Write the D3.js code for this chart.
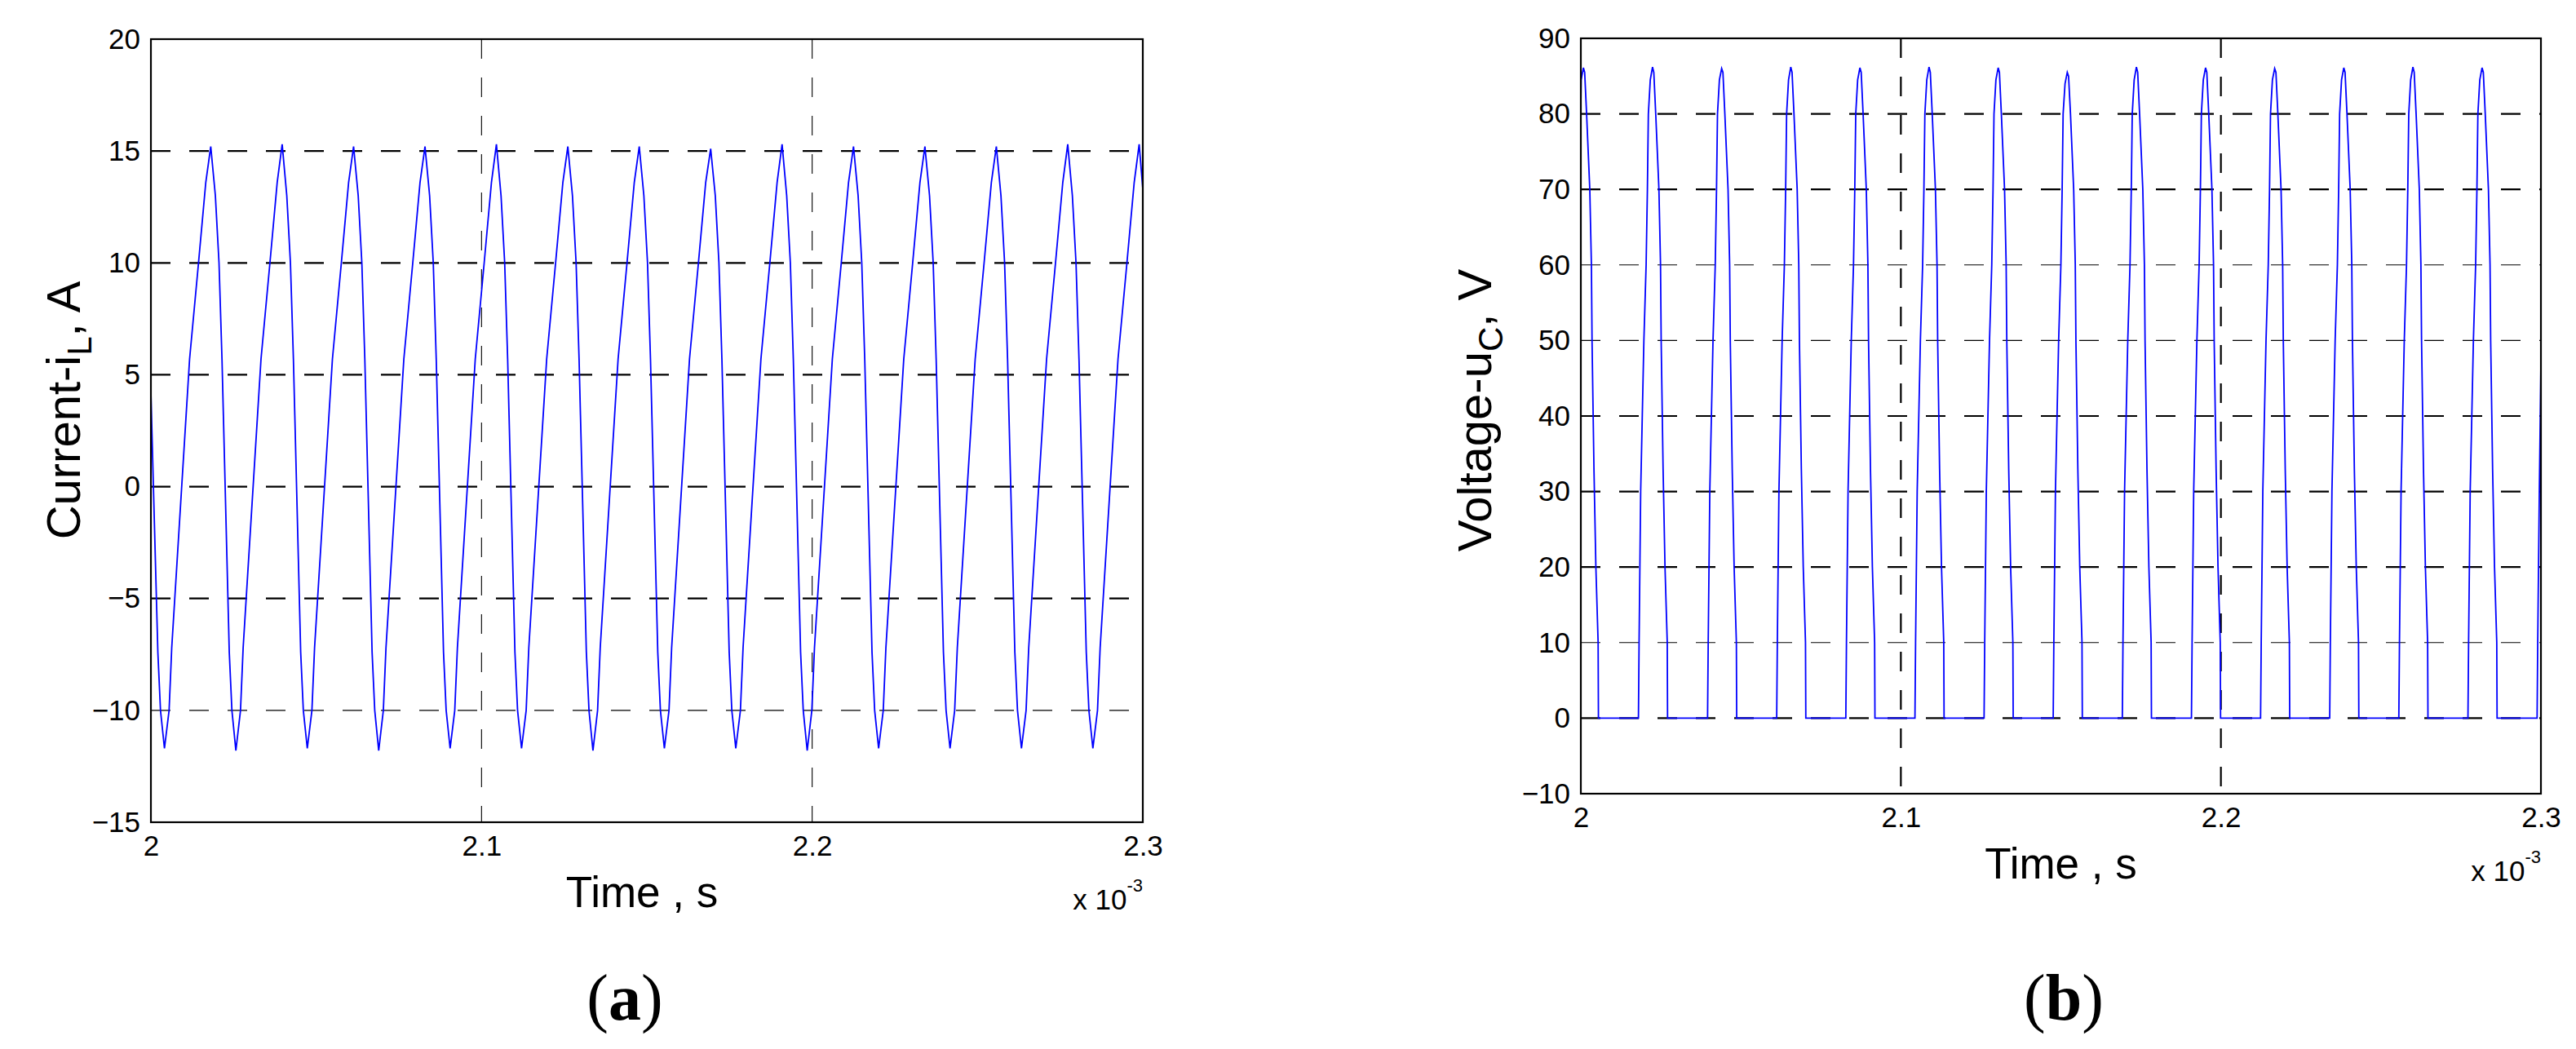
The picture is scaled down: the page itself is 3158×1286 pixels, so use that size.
<!DOCTYPE html>
<html><head><meta charset="utf-8">
<script src="https://cdn.jsdelivr.net/npm/d3@7"></script>
<style>html,body{margin:0;padding:0;background:#fff;}svg{display:block;}</style>
</head><body>
<script>
// ---------- data ----------
const xTicks = [2, 2.1, 2.2, 2.3];
const xTickLabels = ["2", "2.1", "2.2", "2.3"];
const yTicksA = [-15, -10, -5, 0, 5, 10, 15, 20];
const yTicksB = [-10, 0, 10, 20, 30, 40, 50, 60, 70, 80, 90];
const xLabel = "Time , s";
const xScaleNote = ["x 10", "-3"];
const yLabelA = ["Current-i", "L", ", A"];
const yLabelB = ["Voltage-u", "C", ", V"];
const panelLabels = ["a", "b"];

// inductor current i_L (A) vs time (x 10^-3 s)
const currentData = [
[2.0000,4.2],[2.0021,-7.4],[2.0029,-10.0],
[2.0041,-11.7],[2.0055,-10.0],[2.0063,-7.2],[2.0117,5.7],[2.0144,10.0],[2.0166,13.6],[2.0181,15.2],[2.0195,13.0],[2.0206,10.0],[2.0215,5.7],[2.0237,-7.4],[2.0245,-10.0],
[2.0257,-11.8],[2.0271,-10.0],[2.0279,-7.2],[2.0333,5.7],[2.0360,10.0],[2.0382,13.6],[2.0397,15.3],[2.0411,13.0],[2.0422,10.0],[2.0431,5.7],[2.0453,-7.4],[2.0461,-10.0],
[2.0473,-11.7],[2.0487,-10.0],[2.0495,-7.2],[2.0549,5.7],[2.0576,10.0],[2.0598,13.6],[2.0613,15.2],[2.0627,13.0],[2.0638,10.0],[2.0647,5.7],[2.0669,-7.4],[2.0677,-10.0],
[2.0689,-11.8],[2.0703,-10.0],[2.0711,-7.2],[2.0765,5.7],[2.0792,10.0],[2.0814,13.6],[2.0829,15.2],[2.0843,13.0],[2.0854,10.0],[2.0863,5.7],[2.0885,-7.4],[2.0893,-10.0],
[2.0905,-11.7],[2.0919,-10.0],[2.0927,-7.2],[2.0981,5.7],[2.1008,10.0],[2.1030,13.6],[2.1045,15.3],[2.1059,13.0],[2.1070,10.0],[2.1079,5.7],[2.1101,-7.4],[2.1109,-10.0],
[2.1121,-11.7],[2.1135,-10.0],[2.1143,-7.2],[2.1197,5.7],[2.1224,10.0],[2.1246,13.6],[2.1261,15.2],[2.1275,13.0],[2.1286,10.0],[2.1295,5.7],[2.1317,-7.4],[2.1325,-10.0],
[2.1337,-11.8],[2.1351,-10.0],[2.1359,-7.2],[2.1413,5.7],[2.1440,10.0],[2.1462,13.6],[2.1477,15.2],[2.1491,13.0],[2.1502,10.0],[2.1511,5.7],[2.1533,-7.4],[2.1541,-10.0],
[2.1553,-11.7],[2.1567,-10.0],[2.1575,-7.2],[2.1629,5.7],[2.1656,10.0],[2.1678,13.6],[2.1693,15.1],[2.1707,13.0],[2.1718,10.0],[2.1727,5.7],[2.1749,-7.4],[2.1757,-10.0],
[2.1769,-11.7],[2.1783,-10.0],[2.1791,-7.2],[2.1845,5.7],[2.1872,10.0],[2.1894,13.6],[2.1909,15.3],[2.1923,13.0],[2.1934,10.0],[2.1943,5.7],[2.1965,-7.4],[2.1973,-10.0],
[2.1985,-11.8],[2.1999,-10.0],[2.2007,-7.2],[2.2061,5.7],[2.2088,10.0],[2.2110,13.6],[2.2125,15.2],[2.2139,13.0],[2.2150,10.0],[2.2159,5.7],[2.2181,-7.4],[2.2189,-10.0],
[2.2201,-11.7],[2.2215,-10.0],[2.2223,-7.2],[2.2277,5.7],[2.2304,10.0],[2.2326,13.6],[2.2341,15.2],[2.2355,13.0],[2.2366,10.0],[2.2375,5.7],[2.2397,-7.4],[2.2405,-10.0],
[2.2417,-11.7],[2.2431,-10.0],[2.2439,-7.2],[2.2493,5.7],[2.2520,10.0],[2.2542,13.6],[2.2557,15.2],[2.2571,13.0],[2.2582,10.0],[2.2591,5.7],[2.2613,-7.4],[2.2621,-10.0],
[2.2633,-11.7],[2.2647,-10.0],[2.2655,-7.2],[2.2709,5.7],[2.2736,10.0],[2.2758,13.6],[2.2773,15.3],[2.2787,13.0],[2.2798,10.0],[2.2807,5.7],[2.2829,-7.4],[2.2837,-10.0],
[2.2849,-11.7],[2.2863,-10.0],[2.2871,-7.2],[2.2925,5.7],[2.2952,10.0],[2.2974,13.6],[2.2989,15.3],[2.3000,13.3]
];

// capacitor voltage u_C (V) vs time (x 10^-3 s)
const voltageData = [
[2.0000,81],[2.0001,84.5],[2.0008,86.1],[2.0012,85.5],[2.0018,80],[2.0028,70],[2.0033,60],[2.0035,50],[2.0041,33],[2.0047,20],[2.0054,10],[2.0055,0],
[2.0180,0],[2.0182,10],[2.0187,30],[2.0197,50],[2.0204,60],[2.0208,70],[2.0211,80],[2.0217,84.5],[2.0224,86.2],[2.0228,85.5],[2.0234,80],[2.0244,70],[2.0249,60],[2.0251,50],[2.0257,33],[2.0263,20],[2.0270,10],[2.0271,0],
[2.0396,0],[2.0398,10],[2.0403,30],[2.0413,50],[2.0420,60],[2.0424,70],[2.0427,80],[2.0433,84.5],[2.0440,86.0],[2.0444,85.5],[2.0450,80],[2.0460,70],[2.0465,60],[2.0467,50],[2.0473,33],[2.0479,20],[2.0486,10],[2.0487,0],
[2.0612,0],[2.0614,10],[2.0619,30],[2.0629,50],[2.0636,60],[2.0640,70],[2.0643,80],[2.0649,84.5],[2.0656,86.2],[2.0660,85.5],[2.0666,80],[2.0676,70],[2.0681,60],[2.0683,50],[2.0689,33],[2.0695,20],[2.0702,10],[2.0703,0],
[2.0828,0],[2.0830,10],[2.0835,30],[2.0845,50],[2.0852,60],[2.0856,70],[2.0859,80],[2.0865,84.5],[2.0872,86.1],[2.0876,85.5],[2.0882,80],[2.0892,70],[2.0897,60],[2.0899,50],[2.0905,33],[2.0911,20],[2.0918,10],[2.0919,0],
[2.1044,0],[2.1046,10],[2.1051,30],[2.1061,50],[2.1068,60],[2.1072,70],[2.1075,80],[2.1081,84.5],[2.1088,86.2],[2.1092,85.5],[2.1098,80],[2.1108,70],[2.1113,60],[2.1115,50],[2.1121,33],[2.1127,20],[2.1134,10],[2.1135,0],
[2.1260,0],[2.1262,10],[2.1267,30],[2.1277,50],[2.1284,60],[2.1288,70],[2.1291,80],[2.1297,84.5],[2.1304,86.1],[2.1308,85.5],[2.1314,80],[2.1324,70],[2.1329,60],[2.1331,50],[2.1337,33],[2.1343,20],[2.1350,10],[2.1351,0],
[2.1476,0],[2.1478,10],[2.1483,30],[2.1493,50],[2.1500,60],[2.1504,70],[2.1507,80],[2.1513,84.0],[2.1520,85.5],[2.1524,85.0],[2.1530,80],[2.1540,70],[2.1545,60],[2.1547,50],[2.1553,33],[2.1559,20],[2.1566,10],[2.1567,0],
[2.1692,0],[2.1694,10],[2.1699,30],[2.1709,50],[2.1716,60],[2.1720,70],[2.1723,80],[2.1729,84.5],[2.1736,86.2],[2.1740,85.5],[2.1746,80],[2.1756,70],[2.1761,60],[2.1763,50],[2.1769,33],[2.1775,20],[2.1782,10],[2.1783,0],
[2.1908,0],[2.1910,10],[2.1915,30],[2.1925,50],[2.1932,60],[2.1936,70],[2.1939,80],[2.1945,84.5],[2.1952,86.1],[2.1956,85.5],[2.1962,80],[2.1972,70],[2.1977,60],[2.1979,50],[2.1985,33],[2.1991,20],[2.1998,10],[2.1999,0],
[2.2124,0],[2.2126,10],[2.2131,30],[2.2141,50],[2.2148,60],[2.2152,70],[2.2155,80],[2.2161,84.5],[2.2168,86.0],[2.2172,85.5],[2.2178,80],[2.2188,70],[2.2193,60],[2.2195,50],[2.2201,33],[2.2207,20],[2.2214,10],[2.2215,0],
[2.2340,0],[2.2342,10],[2.2347,30],[2.2357,50],[2.2364,60],[2.2368,70],[2.2371,80],[2.2377,84.5],[2.2384,86.1],[2.2388,85.5],[2.2394,80],[2.2404,70],[2.2409,60],[2.2411,50],[2.2417,33],[2.2423,20],[2.2430,10],[2.2431,0],
[2.2556,0],[2.2558,10],[2.2563,30],[2.2573,50],[2.2580,60],[2.2584,70],[2.2587,80],[2.2593,84.5],[2.2600,86.2],[2.2604,85.5],[2.2610,80],[2.2620,70],[2.2625,60],[2.2627,50],[2.2633,33],[2.2639,20],[2.2646,10],[2.2647,0],
[2.2772,0],[2.2774,10],[2.2779,30],[2.2789,50],[2.2796,60],[2.2800,70],[2.2803,80],[2.2809,84.5],[2.2816,86.1],[2.2820,85.5],[2.2826,80],[2.2836,70],[2.2841,60],[2.2843,50],[2.2849,33],[2.2855,20],[2.2862,10],[2.2863,0],
[2.2988,0],[2.2990,10],[2.2995,30],[2.3000,47]
];

// ---------- drawing ----------
const W = 3158, H = 1286;
const SANS = "'Liberation Sans', Arial, sans-serif";
const SERIF = "'Liberation Serif', 'Times New Roman', serif";
const svg = d3.select("body").append("svg").attr("width", W).attr("height", H)
  .style("background", "#fff");

function panel(o) {
  const x = d3.scaleLinear().domain([2, 2.3]).range([o.left, o.right]);
  const y = d3.scaleLinear().domain(o.yDomain).range([o.bottom, o.top]);
  const g = svg.append("g");

  // grid lines (MATLAB dashed)
  g.selectAll(".hg").data(o.yTicks.slice(1, -1)).join("line")
    .attr("x1", o.left).attr("x2", o.right)
    .attr("y1", d => y(d)).attr("y2", d => y(d))
    .attr("stroke", "#000").attr("stroke-width", d => o.thickY.includes(d) ? 2.2 : 1.1)
    .attr("stroke-dasharray", "24,23");
  g.selectAll(".vg").data(xTicks.slice(1, -1)).join("line")
    .attr("x1", d => x(d)).attr("x2", d => x(d))
    .attr("y1", o.top).attr("y2", o.bottom)
    .attr("stroke", "#000").attr("stroke-width", o.thickX ? 2.2 : 1.1)
    .attr("stroke-dasharray", "24,23");

  // data line
  const line = d3.line().x(d => x(d[0])).y(d => y(d[1]));
  g.append("path").datum(o.data).attr("d", line)
    .attr("fill", "none").attr("stroke", "#0000ff").attr("stroke-width", 1.8)
    .attr("stroke-linejoin", "miter");

  // box
  g.append("rect").attr("x", o.left).attr("y", o.top)
    .attr("width", o.right - o.left).attr("height", o.bottom - o.top)
    .attr("fill", "none").attr("stroke", "#000").attr("stroke-width", 2.2);

  // y tick labels
  const ya = d3.axisLeft(y).tickValues(o.yTicks).tickSize(0).tickPadding(13).tickFormat(d3.format("d"));
  const yg = g.append("g").attr("transform", `translate(${o.left},0)`).call(ya);
  yg.select(".domain").remove();
  yg.selectAll("text").attr("font-family", SANS).attr("font-size", 35).attr("fill", "#000");

  // x tick labels
  const xa = d3.axisBottom(x).tickValues(xTicks).tickSize(0).tickPadding(16)
    .tickFormat((d, i) => xTickLabels[i]);
  const xg = g.append("g").attr("transform", `translate(0,${o.bottom})`).call(xa);
  xg.select(".domain").remove();
  xg.selectAll("text").attr("font-family", SANS).attr("font-size", 35).attr("fill", "#000");

  // x 10^-3
  const sc = g.append("text").attr("x", o.right).attr("y", o.bottom + 107)
    .attr("text-anchor", "end").attr("font-family", SANS).attr("font-size", 35);
  sc.append("tspan").text(xScaleNote[0]);
  sc.append("tspan").attr("dy", -22).attr("font-size", 22).text(xScaleNote[1]);

  // x label
  g.append("text").attr("x", (o.left + o.right) / 2 + o.xlShift).attr("y", o.bottom + 104)
    .attr("text-anchor", "middle").attr("font-family", SANS).attr("font-size", 53)
    .text(xLabel);

  // y label
  const yl = g.append("text")
    .attr("transform", `translate(${o.ylx},${o.yly}) rotate(-90)`)
    .attr("text-anchor", "middle").attr("font-family", SANS).attr("font-size", 58);
  yl.append("tspan").text(o.yLabel[0]);
  yl.append("tspan").attr("dy", 14).attr("font-size", 42).text(o.yLabel[1]);
  yl.append("tspan").attr("dy", -14).text(o.yLabel[2]);

  // panel label
  const pl = svg.append("text").attr("x", o.plx).attr("y", 1250)
    .attr("text-anchor", "middle").attr("font-family", SERIF).attr("font-size", 80);
  pl.append("tspan").text("(");
  pl.append("tspan").attr("font-weight", "bold").text(o.panel);
  pl.append("tspan").text(")");
}

panel({left: 185, right: 1401, top: 48, bottom: 1008, yDomain: [-15, 20], yTicks: yTicksA,
  thickY: [15, 10, 5, 0, -5], thickX: false, data: currentData, yLabel: yLabelA,
  ylx: 98, yly: 503, xlShift: -6, plx: 766, panel: panelLabels[0]});
panel({left: 1938, right: 3115, top: 47, bottom: 973, yDomain: [-10, 90], yTicks: yTicksB,
  thickY: [80, 70, 40, 30, 20, 0], thickX: true, data: voltageData, yLabel: yLabelB,
  ylx: 1828, yly: 503, xlShift: 0, plx: 2530, panel: panelLabels[1]});
</script>
</body></html>
